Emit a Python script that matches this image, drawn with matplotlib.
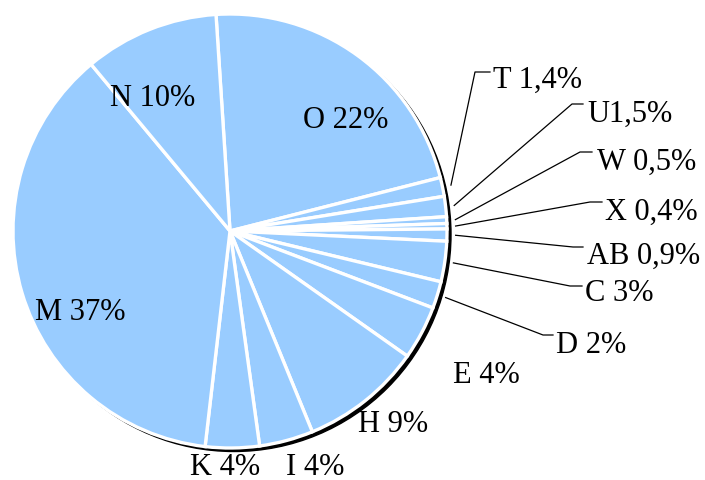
import numpy as np
import matplotlib.pyplot as plt

plt.rcParams['font.family'] = ['Liberation Serif', 'DejaVu Serif']

# dados (sentido horário, começando pela fatia O)
categorias = ['O', 'T', 'U', 'W', 'X', 'AB', 'C', 'D', 'E', 'H', 'I', 'K', 'M', 'N']
valores = [22, 1.4, 1.5, 0.5, 0.4, 0.9, 3, 2, 4, 9, 4, 4, 37, 10]
rotulos = ['O 22%', 'T 1,4%', 'U1,5%', 'W 0,5%', 'X 0,4%', 'AB 0,9%', 'C 3%',
           'D 2%', 'E 4%', 'H 9%', 'I 4%', 'K 4%', 'M 37%', 'N 10%']

# layout em pixels da imagem
W, H = 705, 481
CX, CY, R = 230, 232, 217

def px(x, y):
    return (x - CX) / R, (CY - y) / R

# rótulos sem linha: (esquerda, linha de base)
pos_dentro = {
    'O': (303, 128), 'N': (110, 106), 'M': (35, 320), 'E': (453, 383),
    'H': (358, 432), 'K': (190, 475), 'I': (286, 475),
}
# rótulos com linha guia: (cotovelo x, y, fim da linha x, texto x, base y)
pos_guia = {
    'T': (475, 73, 490, 493, 88),
    'U': (572, 105, 583, 587, 122),
    'W': (580, 153, 592, 597, 170),
    'X': (590, 203, 602, 605, 220),
    'AB': (573, 248, 583, 587, 264),
    'C': (570, 287, 582, 585, 301),
    'D': (543, 336, 553, 556, 353),
}

fig = plt.figure(figsize=(7.05, 4.81), dpi=100)
ax = fig.add_axes([0, 0, 1, 1])

# sombra
ax.add_patch(plt.Circle(px(CX + 4, CY + 3.5), 1.0, color='black', zorder=0))

fatias, _ = ax.pie(valores, startangle=93.7, counterclock=False,
                   colors=['#99CCFF'], radius=1.0,
                   wedgeprops=dict(edgecolor='white', linewidth=2.4))

ax.set_xlim(-CX / R, (W - CX) / R)
ax.set_ylim(-(H - CY) / R, CY / R)
ax.set_aspect('equal')
ax.axis('off')

for fatia, cat, txt in zip(fatias, categorias, rotulos):
    if cat in pos_dentro:
        x, y = px(*pos_dentro[cat])
        ax.text(x, y, txt, fontsize=22, ha='left', va='baseline')
    else:
        ex, ey, fx, tx, ty = pos_guia[cat]
        ang = np.deg2rad((fatia.theta1 + fatia.theta2) / 2)
        x0, y0 = 1.04 * np.cos(ang), 1.04 * np.sin(ang)
        x1, y1 = px(ex, ey)
        x2, _ = px(fx, ey)
        ax.plot([x0, x1, x2], [y0, y1, y1], color='black', lw=0.9, zorder=3)
        x, y = px(tx, ty)
        ax.text(x, y, txt, fontsize=22, ha='left', va='baseline')

fig.savefig('out.png', dpi=100)
